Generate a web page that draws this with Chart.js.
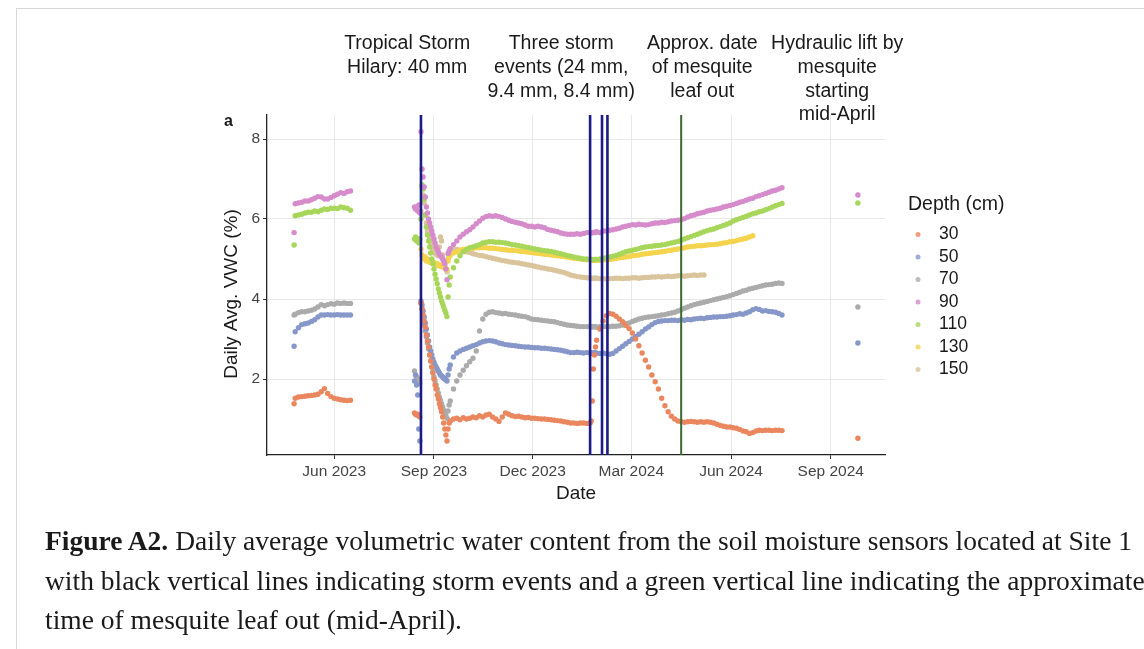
<!DOCTYPE html>
<html>
<head>
<meta charset="utf-8">
<title>Daily average VWC, Site 1</title>
<script src="https://cdn.jsdelivr.net/npm/chart.js@4.4.1/dist/chart.umd.min.js"></script>
<style>
  html, body { margin: 0; padding: 0; background: #fff; }
  #wrap { position: relative; width: 1144px; height: 649px; overflow: hidden; }
  #frame { position: absolute; left: 16px; top: 8px; width: 1140px; height: 700px;
           border-left: 1px solid #d8d8d8; border-top: 1px solid #d8d8d8; }
  canvas { position: absolute; left: 0; top: 0; }
  .cap { position: absolute; left: 45px; font-family: "Liberation Serif", "Times New Roman", serif;
         font-size: 27.5px; line-height: 36px; color: #1a1a1a; white-space: nowrap; }
</style>
</head>
<body>
<div id="wrap">
  <div id="frame"></div>
  <canvas id="vwcChart" width="1144" height="649"></canvas>
  <div class="cap" style="top:523px"><b>Figure A2.</b> Daily average volumetric water content from the soil moisture sensors located at Site 1</div>
  <div class="cap" style="top:563px">with black vertical lines indicating storm events and a green vertical line indicating the approximate</div>
  <div class="cap" style="top:602px">time of mesquite leaf out (mid-April).</div>
</div>
<script>
// days counted from 1 Jun 2023
const baseDate = "2023-06-01";

const depths = ["30", "50", "70", "90", "110", "130", "150"];

const tickDates = ["2023-06-01", "2023-09-01", "2023-12-01", "2024-03-01", "2024-06-01", "2024-09-01"];
const tickLabels = ["Jun 2023", "Sep 2023", "Dec 2023", "Mar 2024", "Jun 2024", "Sep 2024"];
const yTicks = [2, 4, 6, 8];

const stormDates = ["2023-08-20", "2024-01-23", "2024-02-03", "2024-02-08"];
const leafOutDates = ["2024-04-16"];

const noteLines = [
  ["Tropical Storm", "Hilary: 40 mm"],
  ["Three storm", "events (24 mm,", "9.4 mm, 8.4 mm)"],
  ["Approx. date", "of mesquite", "leaf out"],
  ["Hydraulic lift by", "mesquite", "starting", "mid-April"]
];

const dayOffsets = [
  -37, -36, -33, -30, -27, -24, -21, -18, -15, -12, -9, -6, -3, 0, 3, 6, 9, 12, 15,
  74, 75, 76, 77, 78, 79,
  80, 81, 82, 83, 84, 85, 86, 87, 88, 89, 90, 91, 92, 93, 94, 95, 96, 97, 98, 99,
  100, 101, 102, 103, 104, 105, 106, 107,
  110, 113, 116, 119, 122, 125, 128, 131, 134, 137, 140, 143, 146, 149, 152, 155, 158, 161, 164, 167,
  170, 173, 176, 179, 182, 185, 188, 191, 194, 197, 200, 203, 206, 209, 212, 215, 218, 221, 224, 227,
  230, 233, 236,
  237, 238, 239, 240, 241,
  242, 245, 248, 251, 254, 257, 260, 263, 266, 269, 272, 275, 278, 281, 284, 287, 290, 293, 296, 299,
  302, 305, 308, 311, 314, 317, 320, 323, 326, 329, 332, 335, 338, 341, 344, 347, 350, 353, 356, 359,
  362, 365, 368, 371, 374, 377, 380, 383, 386, 389, 392, 395, 398, 401, 404, 407, 410, 413,
  483
];

const vwc30 = [
  1.38, 1.52, 1.55, 1.56, 1.57, 1.58, 1.59, 1.6, 1.62, 1.68, 1.76, 1.64, 1.56, 1.52, 1.5, 1.48, 1.47, 1.46, 1.47,
  1.15, 1.12, 1.1, 1.12, 1.08, 1.05,
  3.9, 3.75, 3.6, 3.45, 3.3, 3.1, 2.95, 2.8, 2.6, 2.45, 2.3, 2.15, 2.0, 1.85, 1.75, 1.6, 1.5, 1.38, 1.28, 1.18,
  1.05, 0.9, 0.75, 0.6, 0.45, 0.75, 0.9, 0.95,
  1.0, 1.02, 0.98, 1.03, 1.0, 1.02, 1.05, 1.03, 1.08, 1.05, 1.1, 1.12, 1.05, 1.0, 0.94, 1.05, 1.15, 1.12, 1.08, 1.06,
  1.07, 1.05, 1.03, 1.04, 1.02, 1.02, 1.01, 1.0, 1.0, 0.99, 0.98, 0.97, 0.96, 0.95, 0.93, 0.92, 0.9, 0.9, 0.89, 0.9,
  0.9, 0.89, 0.9,
  0.95, 1.45, 2.25, 2.6, 2.8,
  2.97, 3.25, 3.45, 3.58, 3.64, 3.62, 3.57, 3.5, 3.43, 3.34, 3.26, 3.15, 3.0, 2.83, 2.65, 2.47, 2.3, 2.1, 1.93, 1.75,
  1.52, 1.33, 1.18, 1.07, 1.0, 0.95, 0.93, 0.92, 0.93, 0.94, 0.93, 0.92, 0.93, 0.92, 0.93, 0.92, 0.9, 0.87, 0.84, 0.82,
  0.8, 0.8, 0.78, 0.77, 0.74, 0.7, 0.68, 0.64, 0.66, 0.7, 0.72, 0.71, 0.72, 0.72, 0.71, 0.72, 0.72, 0.71,
  0.52
];

const vwc50 = [
  2.82, 3.18, 3.28, 3.36, 3.38, 3.4, 3.44, 3.48, 3.55, 3.6, 3.6, 3.61, 3.6, 3.6, 3.61, 3.6, 3.6, 3.6, 3.6,
  1.95, 2.1, 1.85, 1.6, 0.75, 0.45,
  3.95, 3.85, 3.7, 3.55, 3.4, 3.25, 3.1, 2.95, 2.8, 2.7, 2.6, 2.5, 2.42, 2.35, 2.3, 2.25, 2.2, 2.15, 2.1, 2.08,
  2.05, 2.02, 2.0, 1.98, 1.95, 2.1, 2.25, 2.35,
  2.55, 2.65, 2.7, 2.74, 2.77, 2.8, 2.83, 2.86, 2.9, 2.93, 2.95, 2.96, 2.95, 2.93, 2.9, 2.88, 2.86, 2.85, 2.84, 2.83,
  2.82, 2.81, 2.8, 2.8, 2.79, 2.78, 2.78, 2.77, 2.77, 2.76, 2.75, 2.74, 2.73, 2.72, 2.7, 2.68, 2.66, 2.66, 2.67, 2.66,
  2.65, 2.66, 2.65,
  2.66, 2.64, 2.65, 2.66, 2.64,
  2.65, 2.64, 2.65, 2.63, 2.62, 2.64, 2.7, 2.76, 2.82, 2.88, 2.94, 3.0, 3.06, 3.12, 3.18, 3.25, 3.3, 3.36, 3.41, 3.44,
  3.45, 3.46, 3.46, 3.47, 3.47, 3.46, 3.48, 3.47, 3.49, 3.48, 3.5, 3.51, 3.52, 3.51, 3.53, 3.54, 3.55, 3.55, 3.56, 3.56,
  3.57, 3.58, 3.6, 3.61, 3.63, 3.62, 3.65, 3.68, 3.73, 3.76, 3.74, 3.7, 3.71, 3.69, 3.68, 3.67, 3.64, 3.6,
  2.9
];

const vwc70 = [
  3.6, 3.62, 3.66, 3.68, 3.68, 3.7, 3.72, 3.75, 3.8, 3.86, 3.83, 3.86, 3.88, 3.87, 3.9, 3.89, 3.9, 3.89, 3.89,
  2.2, 2.1, 2.05, 1.95, 2.0, 1.9,
  3.9, 3.75, 3.55, 3.35, 3.2, 3.05, 2.9, 2.75, 2.6, 2.45, 2.3, 2.18, 2.05, 1.95, 1.85, 1.75, 1.65, 1.55, 1.47, 1.38,
  1.3, 1.22, 1.15, 1.08, 1.02, 1.2, 1.35, 1.45,
  1.75, 1.95, 2.1, 2.22, 2.33, 2.43, 2.52, 2.7, 3.2, 3.5, 3.62, 3.67, 3.68, 3.66, 3.65, 3.63, 3.64, 3.62, 3.61, 3.6,
  3.58, 3.57, 3.56, 3.53, 3.5, 3.49, 3.48, 3.47, 3.46, 3.45, 3.44, 3.43, 3.41, 3.39, 3.37, 3.35, 3.34, 3.33, 3.32, 3.31,
  3.31, 3.31, 3.31,
  3.31, 3.3, 3.31, 3.31, 3.3,
  3.3, 3.31, 3.31, 3.31, 3.31, 3.32, 3.32, 3.33, 3.35, 3.38, 3.4, 3.44, 3.47, 3.5, 3.52, 3.54, 3.55, 3.56, 3.57, 3.58,
  3.6, 3.61, 3.63, 3.65, 3.67, 3.7, 3.73, 3.77, 3.8, 3.83, 3.86, 3.88, 3.9, 3.92, 3.94, 3.96, 3.98, 4.0, 4.02, 4.04,
  4.06, 4.08, 4.11, 4.14, 4.17, 4.2, 4.22, 4.25, 4.27, 4.29, 4.31, 4.33, 4.35, 4.36, 4.37, 4.39, 4.4, 4.39,
  3.8
];

const vwc90 = [
  5.66, 6.38, 6.4, 6.42, 6.45, 6.45, 6.48, 6.52, 6.56, 6.55, 6.5, 6.5, 6.54, 6.58, 6.62, 6.66, 6.64, 6.68, 6.7,
  6.3, 6.25, 6.3, 6.2, 6.35, 6.15,
  8.18, 7.25, 7.05, 6.8, 6.55, 6.3, 6.15, 6.0, 5.9, 5.8, 5.7, 5.6, 5.5, 5.4, 5.3, 5.25, 5.18, 5.12, 5.08, 5.05,
  5.0, 4.95, 4.88, 4.75, 4.48, 5.14, 5.2, 5.26,
  5.36, 5.45, 5.55, 5.62, 5.68, 5.73, 5.8, 5.88, 5.95, 6.02, 6.06, 6.08, 6.07, 6.08, 6.06, 6.04, 6.0, 5.97, 5.94, 5.92,
  5.9, 5.88, 5.85, 5.82, 5.82, 5.8, 5.82, 5.8, 5.78, 5.74, 5.72, 5.7, 5.68, 5.65, 5.63, 5.62, 5.62, 5.62, 5.63, 5.62,
  5.64, 5.66, 5.66,
  5.65, 5.66, 5.66, 5.67, 5.66,
  5.68, 5.66, 5.7, 5.7, 5.72, 5.73, 5.75, 5.77, 5.8, 5.82, 5.84, 5.86, 5.85, 5.87, 5.86, 5.85, 5.86, 5.88, 5.9, 5.9,
  5.92, 5.91, 5.93, 5.95, 5.96, 5.97, 5.98, 6.01, 6.05, 6.08, 6.1, 6.13, 6.15, 6.17, 6.2, 6.22, 6.23, 6.25, 6.27, 6.3,
  6.32, 6.34, 6.36, 6.39, 6.42, 6.44, 6.47, 6.5, 6.52, 6.56, 6.58, 6.61, 6.64, 6.67, 6.7, 6.72, 6.75, 6.78,
  6.6
];

const vwc110 = [
  5.35, 6.08, 6.1, 6.12, 6.15, 6.17, 6.17, 6.2, 6.18, 6.22, 6.25, 6.24, 6.27, 6.27, 6.26, 6.3, 6.28, 6.27, 6.22,
  5.5, 5.55, 5.45, 5.5, 5.4, 5.5,
  6.0, 6.85, 6.75, 6.5, 6.1, 5.8, 5.6, 5.45, 5.3, 5.15, 5.0, 4.88, 4.75, 4.62, 4.5, 4.38, 4.25, 4.15, 4.05, 3.95,
  3.88, 3.8, 3.72, 3.65, 3.56, 4.05, 4.35, 4.55,
  4.78, 4.95, 5.08, 5.18, 5.24, 5.28, 5.3, 5.33, 5.36, 5.4, 5.42, 5.43, 5.43, 5.42, 5.42, 5.41, 5.4, 5.38, 5.36, 5.35,
  5.33, 5.32, 5.3, 5.29, 5.27, 5.25, 5.24, 5.22, 5.21, 5.2, 5.19, 5.17, 5.15, 5.13, 5.11, 5.09, 5.07, 5.05, 5.03, 5.02,
  5.0, 5.0, 4.99,
  4.99, 4.99, 4.98, 4.99, 4.99,
  4.99, 5.0, 5.02, 5.03, 5.05, 5.07, 5.09, 5.12, 5.15, 5.18, 5.2, 5.22, 5.24, 5.26, 5.28, 5.3, 5.31, 5.32, 5.33, 5.34,
  5.35, 5.36, 5.38, 5.4, 5.42, 5.44, 5.47, 5.5, 5.53, 5.56, 5.59, 5.62, 5.65, 5.68, 5.71, 5.73, 5.75, 5.78, 5.81, 5.84,
  5.87, 5.9, 5.95, 5.98, 6.01, 6.04, 6.07, 6.1, 6.13, 6.15, 6.18, 6.2, 6.23, 6.26, 6.3, 6.33, 6.36, 6.39,
  6.4
];

const vwc130 = [
  null, null, null, null, null, null, null, null, null, null, null, null, null, null, null, null, null, null, null,
  null, null, null, null, null, null,
  5.25, 5.1, 5.05, 5.0, 5.05, 4.95, 5.0, 4.95, 4.92, 4.95, 4.9, 4.92, 4.88, 4.9, 4.86, 4.88, 4.84, 4.85, 4.82, 4.83,
  4.8, 4.8, 4.78, 4.76, 4.74, 4.95, 5.05, 5.1,
  5.15, 5.18, 5.22, 5.24, 5.25, 5.26, 5.27, 5.28, 5.28, 5.28, 5.28, 5.27, 5.27, 5.26, 5.25, 5.24, 5.23, 5.22, 5.22, 5.21,
  5.2, 5.19, 5.18, 5.17, 5.16, 5.15, 5.14, 5.13, 5.12, 5.11, 5.1, 5.09, 5.08, 5.07, 5.06, 5.05, 5.03, 5.02, 5.01, 5.0,
  4.99, 4.98, 4.98,
  4.98, 4.97, 4.98, 4.97, 4.97,
  4.97, 4.97, 4.98, 4.98, 4.99, 5.0, 5.01, 5.03, 5.04, 5.05, 5.06, 5.08, 5.09, 5.1, 5.12, 5.13, 5.14, 5.15, 5.16, 5.17,
  5.18, 5.19, 5.21, 5.22, 5.24, 5.25, 5.26, 5.28, 5.3, 5.31, 5.32, 5.33, 5.33, 5.34, 5.35, 5.36, 5.36, 5.37, 5.38, 5.4,
  5.41, 5.43, 5.44, 5.46, 5.48, 5.5, 5.52, 5.55, 5.58, null, null, null, null, null, null, null, null, null,
  null
];

const vwc150 = [
  null, null, null, null, null, null, null, null, null, null, null, null, null, null, null, null, null, null, null,
  null, null, null, null, null, null,
  6.2, 6.8, 6.6, 6.4, 6.1, 5.9, 5.7, 5.6, 5.5, 5.4, 5.3, 5.25, 5.2, 5.15, 5.12, 5.1, 5.08, 5.3, 5.55, 5.45,
  5.1, 4.95, 4.85, 4.75, 4.68, 5.0, 5.15, 5.2,
  5.25, 5.24, 5.22, 5.2, 5.18, 5.16, 5.13, 5.11, 5.09, 5.08, 5.06, 5.04, 5.02, 5.0, 4.98, 4.96, 4.95, 4.93, 4.92, 4.91,
  4.9, 4.88, 4.87, 4.85, 4.84, 4.82, 4.8, 4.78, 4.77, 4.75, 4.74, 4.72, 4.7, 4.68, 4.66, 4.63, 4.6, 4.58, 4.56, 4.55,
  4.54, 4.53, 4.52,
  4.52, 4.52, 4.51, 4.52, 4.52,
  4.52, 4.51, 4.51, 4.5, 4.51, 4.51, 4.52, 4.52, 4.51, 4.52, 4.52, 4.53, 4.53, 4.52, 4.53, 4.54, 4.54, 4.55, 4.55, 4.56,
  4.55, 4.56, 4.57, 4.56, 4.57, 4.58, 4.58, 4.57, 4.58, 4.59, 4.6, 4.59, 4.6, 4.6, null, null, null, null, null, null,
  null, null, null, null, null, null, null, null, null, null, null, null, null, null, null, null, null, null,
  null
];

const depthColors = ["#ea875f", "#8797c9", "#ababab", "#d68bcb", "#a7d65a", "#f3d44c", "#dac49c"];
const depthSeries = [vwc30, vwc50, vwc70, vwc90, vwc110, vwc130, vwc150];

const toDay = (s) => Math.round((Date.parse(s) - Date.parse(baseDate)) / 86400000);

const datasets = depthSeries.map((values, i) => ({
  label: depths[i],
  data: dayOffsets
    .map((d, j) => (values[j] == null ? null : { x: d, y: values[j] }))
    .filter((p) => p !== null),
  backgroundColor: depthColors[i],
  borderWidth: 0,
  pointRadius: 2.7,
  pointHoverRadius: 2.7,
}));

const sans = "'Liberation Sans', Arial, sans-serif";

const eventLines = {
  id: "eventLines",
  afterDatasetsDraw(chart) {
    const { ctx, chartArea, scales } = chart;
    const drawAt = (dates, color, width) => {
      dates.forEach((s) => {
        const px = scales.x.getPixelForValue(toDay(s));
        ctx.strokeStyle = color;
        ctx.lineWidth = width;
        ctx.beginPath();
        ctx.moveTo(px, chartArea.top);
        ctx.lineTo(px, chartArea.bottom);
        ctx.stroke();
      });
    };
    ctx.save();
    drawAt(stormDates, "#1c1c88", 2.6);
    drawAt(leafOutDates, "#3c6a34", 2);
    ctx.restore();
  },
};

// text above the panel, y title, the "a" tag and the depth legend
const extras = {
  id: "extras",
  afterDraw(chart) {
    const { ctx, scales } = chart;
    ctx.save();
    ctx.fillStyle = "#1a1a1a";
    ctx.textBaseline = "middle";

    ctx.font = "19.5px " + sans;
    ctx.textAlign = "center";
    const noteDays = [67.3, 209.4, 339.4, 463.9];
    noteLines.forEach((lines, i) => {
      const cx = scales.x.getPixelForValue(noteDays[i]);
      lines.forEach((t, k) => ctx.fillText(t, cx, 44 + k * 23.7));
    });

    ctx.save();
    ctx.translate(232, 294);
    ctx.rotate(-Math.PI / 2);
    ctx.font = "19px " + sans;
    ctx.fillText("Daily Avg. VWC (%)", 0, 0);
    ctx.restore();

    ctx.font = "bold 16px " + sans;
    ctx.textAlign = "left";
    ctx.fillText("a", 224, 122);

    ctx.font = "19.5px " + sans;
    ctx.fillText("Depth (cm)", 908, 205);
    ctx.font = "17.5px " + sans;
    chart.data.datasets.forEach((ds, i) => {
      const y = 234.5 + i * 22.5;
      ctx.globalAlpha = 0.8;
      ctx.fillStyle = ds.backgroundColor;
      ctx.beginPath();
      ctx.arc(918, y, 2.5, 0, Math.PI * 2);
      ctx.fill();
      ctx.globalAlpha = 1;
      ctx.fillStyle = "#1a1a1a";
      ctx.fillText(ds.label, 939, y);
    });
    ctx.restore();
  },
};

new Chart(document.getElementById("vwcChart"), {
  type: "scatter",
  data: { datasets },
  options: {
    responsive: false,
    animation: false,
    devicePixelRatio: 1,
    layout: { padding: { left: 207, top: 115, right: 259, bottom: 134 } },
    plugins: {
      legend: { display: false },
      tooltip: { enabled: false },
    },
    scales: {
      x: {
        type: "linear",
        min: -62,
        max: 508,
        afterFit: (scale) => { scale.height = 60; },
        afterBuildTicks: (scale) => {
          scale.ticks = tickDates.map((s) => ({ value: toDay(s) }));
        },
        ticks: {
          font: { family: sans, size: 15.5 },
          color: "#444",
          padding: 3,
          maxRotation: 0,
          callback: (value, index) => tickLabels[index],
        },
        grid: { color: "#e8e8e8", lineWidth: 1, tickLength: 4, tickColor: "#333" },
        border: { display: true, color: "#222", width: 1.3 },
        title: {
          display: true,
          text: "Date",
          font: { family: sans, size: 19 },
          color: "#1a1a1a",
          padding: { top: 0, bottom: 10 },
        },
      },
      y: {
        min: 0.1,
        max: 8.6,
        afterFit: (scale) => { scale.width = 60; },
        afterBuildTicks: (scale) => {
          scale.ticks = yTicks.map((v) => ({ value: v }));
        },
        ticks: {
          font: { family: sans, size: 15.5 },
          color: "#444",
          padding: 3,
        },
        grid: { color: "#e8e8e8", lineWidth: 1, tickLength: 4, tickColor: "#333" },
        border: { display: true, color: "#222", width: 1.3 },
      },
    },
  },
  plugins: [eventLines, extras],
});
</script>
</body>
</html>
